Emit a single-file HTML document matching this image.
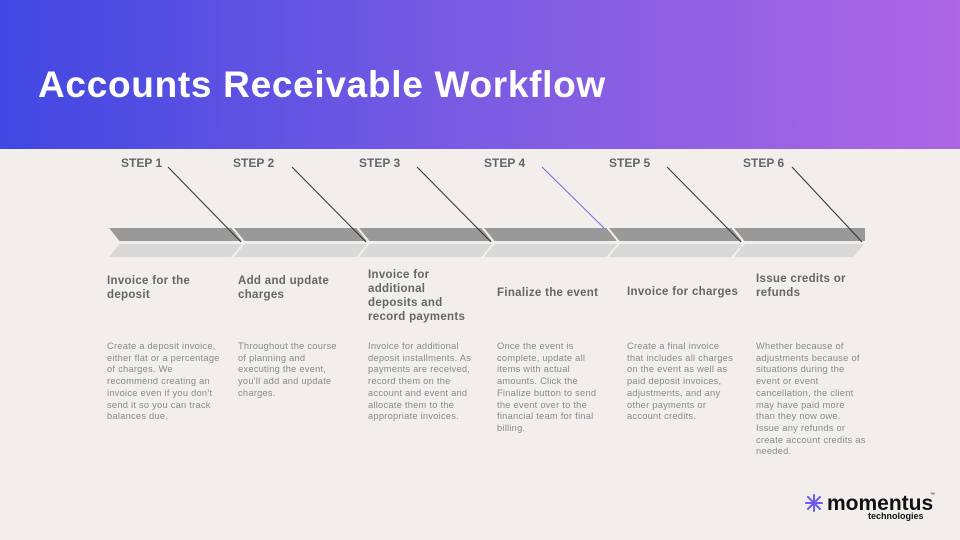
<!DOCTYPE html>
<html><head><style>
body{margin:0;width:960px;height:540px;background:#f1eeeb;position:relative;overflow:hidden;font-family:"Liberation Sans",sans-serif}
.hdr{position:absolute;left:0;top:0;width:960px;height:149px;background:linear-gradient(90deg,#4147e2,#7a5ce3 50%,#ad66e4)}
.title{position:absolute;left:38px;top:64px;color:#fff;font-size:37px;font-weight:bold;letter-spacing:0.7px}
.step{position:absolute;top:156px;font-size:12px;font-weight:bold;color:#666}
.h{position:absolute;width:112px;font-size:11.5px;font-weight:bold;color:#666;line-height:14px;letter-spacing:0.3px;display:flex;align-items:center;height:60px;top:258px}
.b{position:absolute;top:341px;width:120px;font-size:9.3px;color:#8a8a8a;line-height:11.7px;letter-spacing:0.25px}
</style></head><body>
<div class="hdr"></div>
<div class="title">Accounts Receivable Workflow</div>
<div class="step" style="left:121px">STEP 1</div>
<div class="step" style="left:233px">STEP 2</div>
<div class="step" style="left:359px">STEP 3</div>
<div class="step" style="left:484px">STEP 4</div>
<div class="step" style="left:609px">STEP 5</div>
<div class="step" style="left:743px">STEP 6</div>
<svg width="960" height="540" style="position:absolute;left:0;top:0">
<g fill="#999" stroke="#f1eeeb" stroke-width="2">
<polygon points="107,227 232,227 244,242 119,242"/>
<polygon points="232,227 357,227 369,242 244,242"/>
<polygon points="357,227 482,227 494,242 369,242"/>
<polygon points="482,227 607,227 619,242 494,242"/>
<polygon points="607,227 732,227 744,242 619,242"/>
<polygon points="732,227 866,227 866,242 744,242"/>
</g>
<g fill="#d9d9d9" stroke="#f1eeeb" stroke-width="2">
<polygon points="119,243 244,243 232,258 107,258"/>
<polygon points="244,243 369,243 357,258 232,258"/>
<polygon points="369,243 494,243 482,258 357,258"/>
<polygon points="494,243 619,243 607,258 482,258"/>
<polygon points="619,243 744,243 732,258 607,258"/>
<polygon points="744,243 866,243 854,258 732,258"/>
</g>
<g stroke="#333" stroke-width="1">
<line x1="168" y1="167" x2="241" y2="242"/>
<line x1="292" y1="167" x2="366" y2="242"/>
<line x1="417" y1="167" x2="491" y2="242"/>
<line x1="542" y1="167" x2="604" y2="228" stroke="#6f6fd8"/>
<line x1="667" y1="167" x2="741" y2="242"/>
<line x1="792" y1="167" x2="862" y2="242"/>
</g>
<g transform="translate(814,503)" stroke="#6a5cf0" stroke-width="2" stroke-linecap="round">
<line x1="-8" y1="0" x2="8" y2="0"/><line x1="0" y1="-8" x2="0" y2="8"/>
<line x1="-6" y1="-6" x2="6" y2="6"/><line x1="-6" y1="6" x2="6" y2="-6"/>
</g>
<text x="827" y="510" font-family="Liberation Sans" font-weight="bold" font-size="21" fill="#111">momentus</text>
<text x="930" y="496" font-family="Liberation Sans" font-size="5" fill="#111">™</text>
<text x="868" y="519" font-family="Liberation Sans" font-weight="bold" font-size="9" fill="#111">technologies</text>
</svg>
<div class="h" style="left:107px;top:258px;width:100px">Invoice for the deposit</div>
<div class="h" style="left:238px;width:100px">Add and update charges</div>
<div class="h" style="left:368px;height:56px;top:268px;width:110px">Invoice for additional deposits and record payments</div>
<div class="h" style="left:497px;top:263px">Finalize the event</div>
<div class="h" style="left:627px;top:262px;width:120px">Invoice for charges</div>
<div class="h" style="left:756px;top:256px;width:100px">Issue credits or refunds</div>
<div class="b" style="left:107px;width:118px">Create a deposit invoice, either flat or a percentage of charges. We recommend creating an invoice even if you don't send it so you can track balances due.</div>
<div class="b" style="left:238px;width:104px">Throughout the course of planning and executing the event, you'll add and update charges.</div>
<div class="b" style="left:368px;width:108px">Invoice for additional deposit installments. As payments are received, record them on the account and event and allocate them to the appropriate invoices.</div>
<div class="b" style="left:497px;width:100px">Once the event is complete, update all items with actual amounts. Click the Finalize button to send the event over to the financial team for final billing.</div>
<div class="b" style="left:627px;width:106px">Create a final invoice that includes all charges on the event as well as paid deposit invoices, adjustments, and any other payments or account credits.</div>
<div class="b" style="left:756px;width:110px">Whether because of adjustments because of situations during the event or event cancellation, the client may have paid more than they now owe. Issue any refunds or create account credits as needed.</div>
</body></html>
